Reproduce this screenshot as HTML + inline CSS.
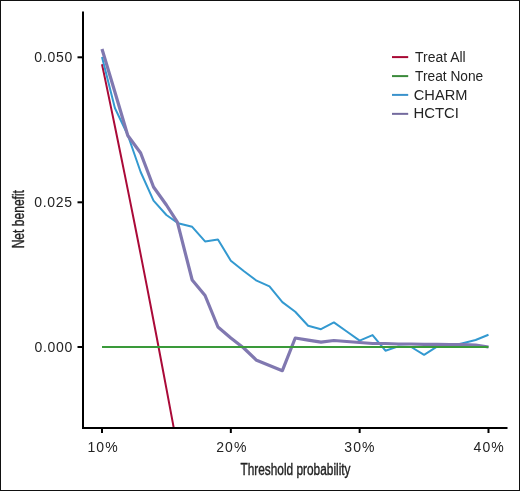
<!DOCTYPE html>
<html><head><meta charset="utf-8"><style>html,body{margin:0;padding:0;background:#fff;overflow:hidden;}svg{display:block;}</style></head>
<body><svg width="520" height="491" viewBox="0 0 520 491">
<rect x="0" y="0" width="520" height="491" fill="#fff"/>
<rect x="0.5" y="0.5" width="519" height="490" fill="none" stroke="#111" stroke-width="1"/>
<defs><clipPath id="pc"><rect x="83" y="12" width="424" height="416"/></clipPath></defs>
<g clip-path="url(#pc)" fill="none" stroke-linejoin="round">
<polyline points="102.00,64.28 105.22,79.64 108.44,95.08 111.66,110.61 114.88,126.23 118.10,141.94 121.32,157.73 124.55,173.61 127.77,189.59 130.99,205.65 134.21,221.81 137.43,238.06 140.65,254.40 143.87,270.83 147.09,287.36 150.31,303.99 153.53,320.72 156.75,337.54 159.97,354.46 163.19,371.48 166.42,388.59 169.64,405.81 172.86,423.14 176.08,440.56 179.30,458.09 182.52,475.72 185.74,493.46 188.96,511.31" stroke="#aa0a38" stroke-width="2"/>
<polyline points="102.00,57.00 114.88,108.00 127.77,135.00 140.65,172.00 153.53,200.70 166.41,215.00 178.01,223.20 192.18,226.80 205.06,241.40 217.95,239.50 230.83,260.70 243.71,271.00 256.60,280.70 269.48,286.40 282.36,302.10 295.25,311.80 308.13,325.70 321.01,329.20 333.89,322.40 346.78,331.50 359.66,340.60 372.54,335.10 385.43,350.70 398.31,346.40 411.19,347.00 424.07,354.80 436.96,346.70 449.84,346.30 462.72,343.30 475.61,340.00 488.49,334.80" stroke="#3399d0" stroke-width="2"/>
<polyline points="102.00,49.00 114.88,92.00 127.77,135.50 140.65,153.00 153.53,187.00 166.41,205.00 177.37,222.20 192.18,280.00 205.06,295.50 217.95,327.00 230.83,338.00 243.71,348.00 256.60,360.30 269.48,365.50 282.36,370.70 295.25,338.00 308.13,340.20 321.01,342.20 333.89,340.50 346.78,341.50 359.66,342.50 372.54,343.50 385.43,343.50 398.31,344.00 411.19,344.00 424.07,344.30 436.96,344.30 449.84,344.50 462.72,344.50 475.61,345.00 488.49,347.00" stroke="#8078b0" stroke-width="3.2"/>
<line x1="102.00" y1="347" x2="488.49" y2="347" stroke="#3a9a3a" stroke-width="2"/>
</g>
<g stroke="#000" stroke-width="2" fill="none">
<line x1="83" y1="11.5" x2="83" y2="428"/>
<line x1="82" y1="428" x2="507.5" y2="428"/>
<line x1="77.5" y1="57.3" x2="83" y2="57.3"/>
<line x1="77.5" y1="202.3" x2="83" y2="202.3"/>
<line x1="77.5" y1="347" x2="83" y2="347"/>
<line x1="102.00" y1="428" x2="102.00" y2="433"/>
<line x1="230.83" y1="428" x2="230.83" y2="433"/>
<line x1="359.66" y1="428" x2="359.66" y2="433"/>
<line x1="488.49" y1="428" x2="488.49" y2="433"/>
</g>
<g stroke-width="2">
<line x1="392" y1="57.1" x2="408.2" y2="57.1" stroke="#a80834"/>
<line x1="392" y1="76.1" x2="408.2" y2="76.1" stroke="#3a8a3a"/>
<line x1="392" y1="94.9" x2="408.2" y2="94.9" stroke="#3a92cc"/>
<line x1="392" y1="113.85" x2="408.2" y2="113.85" stroke="#736a9e"/>
</g>
<g font-family='"Liberation Sans", sans-serif' style="opacity:0.995">
<text transform="translate(73.0,61.7) scale(1.0,1)" font-size="14" text-anchor="end" fill="#222" letter-spacing="0.72">0.050</text>
<text transform="translate(72.8,206.5) scale(1.0,1)" font-size="14" text-anchor="end" fill="#222" letter-spacing="0.72">0.025</text>
<text transform="translate(73.1,351.7) scale(1.0,1)" font-size="14" text-anchor="end" fill="#222" letter-spacing="0.72">0.000</text>
<text transform="translate(103.05,451.5) scale(1.0,1)" font-size="14" text-anchor="middle" fill="#222" letter-spacing="1.05">10%</text>
<text transform="translate(231.85,451.5) scale(1.0,1)" font-size="14" text-anchor="middle" fill="#222" letter-spacing="1.05">20%</text>
<text transform="translate(359.95,451.5) scale(1.0,1)" font-size="14" text-anchor="middle" fill="#222" letter-spacing="1.05">30%</text>
<text transform="translate(489.15,451.5) scale(1.0,1)" font-size="14" text-anchor="middle" fill="#222" letter-spacing="1.05">40%</text>
<text transform="translate(295.5,474.7) scale(0.741,1)" font-size="16" text-anchor="middle" fill="#222" stroke="#222" stroke-width="0.4">Threshold probability</text>
<text transform="translate(24.4,219.2) rotate(-90) scale(0.727,1)" font-size="16.6" text-anchor="middle" fill="#222" stroke="#222" stroke-width="0.4">Net benefit</text>
<text transform="translate(415.1,61.5) scale(0.995,1)" font-size="14" text-anchor="start" fill="#222">Treat All</text>
<text transform="translate(415.1,80.5) scale(0.981,1)" font-size="14" text-anchor="start" fill="#222">Treat None</text>
<text transform="translate(413.8,99.8) scale(1.045,1)" font-size="14" text-anchor="start" fill="#222">CHARM</text>
<text transform="translate(413.4,118) scale(1.065,1)" font-size="14" text-anchor="start" fill="#222">HCTCI</text>
</g>
</svg></body></html>
